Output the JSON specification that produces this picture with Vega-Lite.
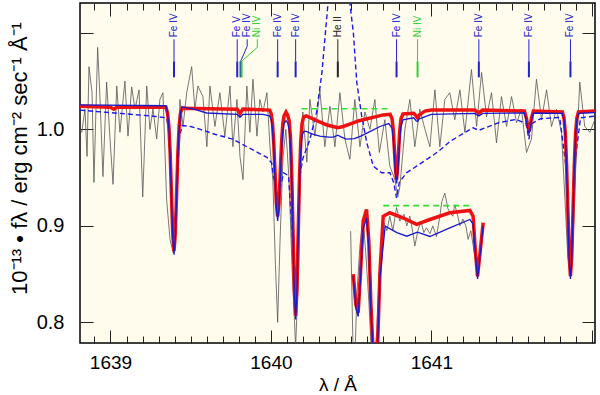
{
 "$schema": "https://vega.github.io/schema/vega-lite/v6.json",
 "width": 515, "height": 340,
 "autosize": {"type": "none"},
 "padding": {"left": 80, "top": 3, "right": 5, "bottom": 52},
 "background": "white",
 "config": {
  "view": {"stroke": "black", "strokeWidth": 1.5, "fill": "#fffcee"},
  "font": "Liberation Sans",
  "axis": {"grid": false, "domain": false, "labelFont": "Liberation Sans", "titleFont": "Liberation Sans", "tickColor": "#222", "labelColor": "black", "titleColor": "black", "titleFontWeight": "normal", "labelFlush": false, "labelOverlap": false}
 },
 "datasets": {
  "obs": [
   {"lam":1638.81,"f":1.0},{"lam":1638.821,"f":0.997},{"lam":1638.841,"f":1.021},{"lam":1638.854,"f":0.972},{"lam":1638.866,"f":1.065},{"lam":1638.885,"f":1.038},{"lam":1638.897,"f":0.945},{"lam":1638.92,"f":1.085},{"lam":1638.935,"f":1.031},{"lam":1638.953,"f":0.951},{"lam":1638.976,"f":1.049},{"lam":1638.997,"f":0.99},{"lam":1639.016,"f":0.943},{"lam":1639.039,"f":1.045},{"lam":1639.059,"f":0.997},{"lam":1639.09,"f":1.05},{"lam":1639.109,"f":0.993},{"lam":1639.132,"f":1.044},{"lam":1639.153,"f":1.021},{"lam":1639.178,"f":1.041},{"lam":1639.201,"f":0.93},{"lam":1639.226,"f":1.045},{"lam":1639.246,"f":1.0},{"lam":1639.265,"f":1.021},{"lam":1639.288,"f":0.99},{"lam":1639.308,"f":1.031},{"lam":1639.327,"f":1.038},{"lam":1639.35,"f":0.927},{"lam":1639.371,"f":0.886},{"lam":1639.391,"f":0.872},{"lam":1639.412,"f":0.927},{"lam":1639.433,"f":1.031},{"lam":1639.452,"f":1.003},{"lam":1639.475,"f":1.038},{"lam":1639.506,"f":1.065},{"lam":1639.526,"f":1.021},{"lam":1639.545,"f":1.045},{"lam":1639.576,"f":1.034},{"lam":1639.601,"f":0.982},{"lam":1639.62,"f":1.045},{"lam":1639.651,"f":1.003},{"lam":1639.682,"f":1.038},{"lam":1639.713,"f":0.993},{"lam":1639.745,"f":1.045},{"lam":1639.763,"f":0.982},{"lam":1639.788,"f":1.031},{"lam":1639.807,"f":0.972},{"lam":1639.826,"f":0.948},{"lam":1639.85,"f":1.045},{"lam":1639.869,"f":0.997},{"lam":1639.888,"f":1.052},{"lam":1639.913,"f":0.993},{"lam":1639.931,"f":1.031},{"lam":1639.95,"f":1.018},{"lam":1639.975,"f":1.038},{"lam":1639.994,"f":0.982},{"lam":1640.012,"f":0.948},{"lam":1640.028,"f":0.86},{"lam":1640.042,"f":0.8},{"lam":1640.056,"f":0.88},{"lam":1640.075,"f":0.97},{"lam":1640.093,"f":1.0},{"lam":1640.112,"f":0.95},{"lam":1640.131,"f":0.86},{"lam":1640.154,"f":0.775},{"lam":1640.174,"f":0.86},{"lam":1640.181,"f":0.972},{"lam":1640.199,"f":1.018},{"lam":1640.224,"f":0.966},{"lam":1640.243,"f":1.031},{"lam":1640.274,"f":0.993},{"lam":1640.305,"f":1.041},{"lam":1640.336,"f":0.982},{"lam":1640.368,"f":1.024},{"lam":1640.399,"f":0.982},{"lam":1640.43,"f":1.038},{"lam":1640.461,"f":0.99},{"lam":1640.492,"f":0.969},{"lam":1640.523,"f":1.031},{"lam":1640.555,"f":0.982},{"lam":1640.586,"f":1.018},{"lam":1640.617,"f":1.0},{"lam":1640.648,"f":1.031},{"lam":1640.676,"f":0.976},{"lam":1640.71,"f":1.01},{"lam":1640.741,"f":0.962},{"lam":1640.773,"f":0.948},{"lam":1640.791,"f":0.93},{"lam":1640.804,"f":0.941},{"lam":1640.835,"f":1.0},{"lam":1640.866,"f":1.031},{"lam":1640.897,"f":0.982},{"lam":1640.928,"f":1.021},{"lam":1640.96,"f":1.0},{"lam":1640.991,"f":0.982},{"lam":1641.022,"f":1.041},{"lam":1641.053,"f":0.982},{"lam":1641.084,"f":1.031},{"lam":1641.115,"f":1.038},{"lam":1641.146,"f":1.01},{"lam":1641.178,"f":1.041},{"lam":1641.209,"f":0.997},{"lam":1641.25,"f":1.062},{"lam":1641.282,"f":1.003},{"lam":1641.313,"f":1.059},{"lam":1641.344,"f":1.013},{"lam":1641.375,"f":1.038},{"lam":1641.406,"f":0.986},{"lam":1641.437,"f":1.034},{"lam":1641.469,"f":1.003},{"lam":1641.5,"f":1.034},{"lam":1641.531,"f":1.007},{"lam":1641.562,"f":1.021},{"lam":1641.593,"f":0.976},{"lam":1641.624,"f":0.99},{"lam":1641.655,"f":1.052},{"lam":1641.687,"f":1.01},{"lam":1641.718,"f":1.041},{"lam":1641.749,"f":1.003},{"lam":1641.78,"f":1.021},{"lam":1641.811,"f":0.997},{"lam":1641.832,"f":0.93},{"lam":1641.85,"f":0.87},{"lam":1641.867,"f":0.85},{"lam":1641.882,"f":0.88},{"lam":1641.9,"f":0.96},{"lam":1641.925,"f":1.049},{"lam":1641.956,"f":1.003},{"lam":1641.988,"f":0.997},{"lam":1642.019,"f":1.01}
  ],
  "obsin": [
   {"lam":1640.497,"f":0.8945},{"lam":1640.511,"f":0.78},{"lam":1640.523,"f":0.76},{"lam":1640.536,"f":0.83},{"lam":1640.555,"f":0.88},{"lam":1640.575,"f":0.9066},{"lam":1640.592,"f":0.87},{"lam":1640.611,"f":0.82},{"lam":1640.623,"f":0.78},{"lam":1640.642,"f":0.76},{"lam":1640.66,"f":0.79},{"lam":1640.679,"f":0.86},{"lam":1640.7,"f":0.905},{"lam":1640.723,"f":0.895},{"lam":1640.741,"f":0.91},{"lam":1640.76,"f":0.895},{"lam":1640.783,"f":0.919},{"lam":1640.804,"f":0.905},{"lam":1640.829,"f":0.912},{"lam":1640.847,"f":0.9},{"lam":1640.866,"f":0.91},{"lam":1640.885,"f":0.893},{"lam":1640.897,"f":0.879},{"lam":1640.916,"f":0.895},{"lam":1640.935,"f":0.905},{"lam":1640.953,"f":0.893},{"lam":1640.97,"f":0.898},{"lam":1640.991,"f":0.892},{"lam":1641.009,"f":0.9},{"lam":1641.032,"f":0.889},{"lam":1641.053,"f":0.91},{"lam":1641.065,"f":0.925},{"lam":1641.084,"f":0.934},{"lam":1641.103,"f":0.918},{"lam":1641.115,"f":0.914},{"lam":1641.134,"f":0.91},{"lam":1641.146,"f":0.922},{"lam":1641.165,"f":0.91},{"lam":1641.178,"f":0.9},{"lam":1641.197,"f":0.907},{"lam":1641.215,"f":0.9},{"lam":1641.229,"f":0.886},{"lam":1641.246,"f":0.895},{"lam":1641.265,"f":0.875},{"lam":1641.284,"f":0.855},{"lam":1641.299,"f":0.865},{"lam":1641.315,"f":0.89}
  ],
  "red": [
   {"lam":1638.81,"f":1.024},{"lam":1639.0,"f":1.023},{"lam":1639.02,"f":1.021},{"lam":1639.04,"f":1.023},{"lam":1639.346,"f":1.023},{"lam":1639.356,"f":1.0165},{"lam":1639.364,"f":1.003},{"lam":1639.372,"f":0.975},{"lam":1639.38,"f":0.933},{"lam":1639.388,"f":0.892},{"lam":1639.396,"f":0.874},{"lam":1639.404,"f":0.892},{"lam":1639.412,"f":0.933},{"lam":1639.42,"f":0.975},{"lam":1639.428,"f":1.003},{"lam":1639.436,"f":1.0165},{"lam":1639.446,"f":1.022},{"lam":1639.79,"f":1.021},{"lam":1639.807,"f":1.0165},{"lam":1639.825,"f":1.021},{"lam":1639.992,"f":1.02},{"lam":1640.002,"f":1.016},{"lam":1640.01,"f":1.006},{"lam":1640.018,"f":0.985},{"lam":1640.026,"f":0.954},{"lam":1640.034,"f":0.923},{"lam":1640.042,"f":0.91},{"lam":1640.05,"f":0.923},{"lam":1640.058,"f":0.954},{"lam":1640.066,"f":0.985},{"lam":1640.074,"f":1.006},{"lam":1640.082,"f":1.014},{"lam":1640.094,"f":1.018},{"lam":1640.104,"f":1.015},{"lam":1640.114,"f":1.009},{"lam":1640.122,"f":0.991},{"lam":1640.13,"f":0.951},{"lam":1640.138,"f":0.892},{"lam":1640.146,"f":0.834},{"lam":1640.154,"f":0.807},{"lam":1640.162,"f":0.834},{"lam":1640.17,"f":0.892},{"lam":1640.178,"f":0.95},{"lam":1640.186,"f":0.988},{"lam":1640.194,"f":1.006},{"lam":1640.204,"f":1.013},{"lam":1640.22,"f":1.014},{"lam":1640.26,"f":1.011},{"lam":1640.3,"f":1.008},{"lam":1640.35,"f":1.0045},{"lam":1640.417,"f":1.0017},{"lam":1640.45,"f":1.003},{"lam":1640.5,"f":1.006},{"lam":1640.55,"f":1.009},{"lam":1640.6,"f":1.011},{"lam":1640.65,"f":1.013},{"lam":1640.7,"f":1.015},{"lam":1640.743,"f":1.0156},{"lam":1640.755,"f":1.011},{"lam":1640.763,"f":0.999},{"lam":1640.771,"f":0.975},{"lam":1640.777,"f":0.958},{"lam":1640.783,"f":0.948},{"lam":1640.789,"f":0.958},{"lam":1640.795,"f":0.975},{"lam":1640.803,"f":0.999},{"lam":1640.811,"f":1.011},{"lam":1640.823,"f":1.016},{"lam":1640.89,"f":1.0166},{"lam":1640.905,"f":1.014},{"lam":1640.914,"f":1.012},{"lam":1640.925,"f":1.015},{"lam":1640.96,"f":1.019},{"lam":1641.0,"f":1.02},{"lam":1641.27,"f":1.02},{"lam":1641.296,"f":1.017},{"lam":1641.32,"f":1.02},{"lam":1641.58,"f":1.019},{"lam":1641.592,"f":1.012},{"lam":1641.6,"f":1.004},{"lam":1641.608,"f":1.0},{"lam":1641.616,"f":1.004},{"lam":1641.624,"f":1.012},{"lam":1641.636,"f":1.019},{"lam":1641.817,"f":1.018},{"lam":1641.827,"f":1.0115},{"lam":1641.835,"f":0.996},{"lam":1641.843,"f":0.963},{"lam":1641.851,"f":0.915},{"lam":1641.859,"f":0.868},{"lam":1641.867,"f":0.848},{"lam":1641.875,"f":0.868},{"lam":1641.883,"f":0.915},{"lam":1641.891,"f":0.963},{"lam":1641.899,"f":0.996},{"lam":1641.907,"f":1.0115},{"lam":1641.917,"f":1.018},{"lam":1642.02,"f":1.019}
  ],
  "blue": [
   {"lam":1638.81,"f":1.0255},{"lam":1639.346,"f":1.0245},{"lam":1639.356,"f":1.016},{"lam":1639.364,"f":1.001},{"lam":1639.372,"f":0.972},{"lam":1639.38,"f":0.93},{"lam":1639.388,"f":0.889},{"lam":1639.396,"f":0.87},{"lam":1639.404,"f":0.889},{"lam":1639.412,"f":0.93},{"lam":1639.42,"f":0.972},{"lam":1639.428,"f":1.001},{"lam":1639.436,"f":1.016},{"lam":1639.446,"f":1.0235},{"lam":1639.52,"f":1.021},{"lam":1639.6,"f":1.017},{"lam":1639.79,"f":1.0155},{"lam":1639.807,"f":1.0125},{"lam":1639.825,"f":1.0155},{"lam":1639.95,"f":1.0155},{"lam":1639.992,"f":1.014},{"lam":1640.002,"f":1.01},{"lam":1640.01,"f":1.0},{"lam":1640.018,"f":0.979},{"lam":1640.026,"f":0.948},{"lam":1640.034,"f":0.918},{"lam":1640.042,"f":0.905},{"lam":1640.05,"f":0.918},{"lam":1640.058,"f":0.948},{"lam":1640.066,"f":0.978},{"lam":1640.074,"f":0.998},{"lam":1640.082,"f":1.006},{"lam":1640.094,"f":1.009},{"lam":1640.104,"f":1.007},{"lam":1640.114,"f":1.0},{"lam":1640.122,"f":0.983},{"lam":1640.13,"f":0.945},{"lam":1640.138,"f":0.887},{"lam":1640.146,"f":0.83},{"lam":1640.154,"f":0.803},{"lam":1640.162,"f":0.83},{"lam":1640.17,"f":0.887},{"lam":1640.178,"f":0.943},{"lam":1640.186,"f":0.978},{"lam":1640.194,"f":0.993},{"lam":1640.204,"f":0.998},{"lam":1640.22,"f":0.998},{"lam":1640.26,"f":0.995},{"lam":1640.305,"f":0.993},{"lam":1640.36,"f":0.992},{"lam":1640.39,"f":0.992},{"lam":1640.417,"f":0.994},{"lam":1640.44,"f":0.992},{"lam":1640.47,"f":0.99},{"lam":1640.52,"f":0.9905},{"lam":1640.56,"f":0.993},{"lam":1640.62,"f":0.998},{"lam":1640.68,"f":1.003},{"lam":1640.735,"f":1.006},{"lam":1640.755,"f":1.001},{"lam":1640.763,"f":0.99},{"lam":1640.771,"f":0.968},{"lam":1640.777,"f":0.953},{"lam":1640.783,"f":0.944},{"lam":1640.789,"f":0.953},{"lam":1640.795,"f":0.968},{"lam":1640.803,"f":0.99},{"lam":1640.811,"f":1.003},{"lam":1640.823,"f":1.01},{"lam":1640.89,"f":1.012},{"lam":1640.905,"f":1.009},{"lam":1640.914,"f":1.008},{"lam":1640.925,"f":1.011},{"lam":1641.0,"f":1.0155},{"lam":1641.27,"f":1.0165},{"lam":1641.296,"f":1.014},{"lam":1641.32,"f":1.0165},{"lam":1641.58,"f":1.017},{"lam":1641.592,"f":1.009},{"lam":1641.6,"f":1.0},{"lam":1641.608,"f":0.996},{"lam":1641.616,"f":1.0},{"lam":1641.624,"f":1.009},{"lam":1641.636,"f":1.017},{"lam":1641.817,"f":1.0165},{"lam":1641.827,"f":1.01},{"lam":1641.835,"f":0.994},{"lam":1641.843,"f":0.96},{"lam":1641.851,"f":0.912},{"lam":1641.859,"f":0.865},{"lam":1641.867,"f":0.845},{"lam":1641.875,"f":0.865},{"lam":1641.883,"f":0.912},{"lam":1641.891,"f":0.96},{"lam":1641.899,"f":0.994},{"lam":1641.907,"f":1.01},{"lam":1641.917,"f":1.0165},{"lam":1642.02,"f":1.0175}
  ],
  "dash": [
   {"lam":1638.81,"f":1.02},{"lam":1638.95,"f":1.018},{"lam":1639.1,"f":1.016},{"lam":1639.25,"f":1.014},{"lam":1639.35,"f":1.012},{"lam":1639.364,"f":0.998},{"lam":1639.38,"f":0.93},{"lam":1639.396,"f":0.875},{"lam":1639.412,"f":0.93},{"lam":1639.428,"f":0.99},{"lam":1639.446,"f":1.004},{"lam":1639.5,"f":1.003},{"lam":1639.56,"f":1.0},{"lam":1639.65,"f":0.995},{"lam":1639.76,"f":0.99},{"lam":1639.85,"f":0.982},{"lam":1639.93,"f":0.975},{"lam":1639.975,"f":0.971},{"lam":1640.005,"f":0.965},{"lam":1640.026,"f":0.94},{"lam":1640.042,"f":0.912},{"lam":1640.058,"f":0.94},{"lam":1640.08,"f":0.955},{"lam":1640.11,"f":0.952},{"lam":1640.13,"f":0.9},{"lam":1640.154,"f":0.81},{"lam":1640.17,"f":0.9},{"lam":1640.181,"f":0.952},{"lam":1640.199,"f":0.97},{"lam":1640.243,"f":0.9896},{"lam":1640.285,"f":1.018},{"lam":1640.318,"f":1.059},{"lam":1640.358,"f":1.135},{"lam":1640.39,"f":1.2},{"lam":1640.43,"f":1.26},{"lam":1640.46,"f":1.22},{"lam":1640.489,"f":1.135},{"lam":1640.514,"f":1.1},{"lam":1640.535,"f":1.049},{"lam":1640.566,"f":1.0135},{"lam":1640.597,"f":0.9865},{"lam":1640.638,"f":0.962},{"lam":1640.69,"f":0.955},{"lam":1640.742,"f":0.955},{"lam":1640.765,"f":0.945},{"lam":1640.783,"f":0.929},{"lam":1640.8,"f":0.945},{"lam":1640.845,"f":0.955},{"lam":1640.908,"f":0.962},{"lam":1641.0,"f":0.972},{"lam":1641.05,"f":0.978},{"lam":1641.12,"f":0.988},{"lam":1641.26,"f":1.0017},{"lam":1641.296,"f":0.999},{"lam":1641.42,"f":1.007},{"lam":1641.53,"f":1.0104},{"lam":1641.59,"f":1.006},{"lam":1641.608,"f":0.99},{"lam":1641.625,"f":1.006},{"lam":1641.68,"f":1.011},{"lam":1641.8,"f":1.0124},{"lam":1641.84,"f":0.96},{"lam":1641.867,"f":0.85},{"lam":1641.89,"f":0.96},{"lam":1641.93,"f":1.012},{"lam":1642.02,"f":1.0138}
  ],
  "green": [{"lam":1640.191,"f":1.0214},{"lam":1640.752,"f":1.0214}],
  "greenin": [{"lam":1640.70,"f":0.921},{"lam":1641.25,"f":0.921}],
  "redin": [
   {"lam":1640.513,"f":0.85},{"lam":1640.53,"f":0.818},{"lam":1640.544,"f":0.81},{"lam":1640.558,"f":0.85},{"lam":1640.575,"f":0.905},{"lam":1640.596,"f":0.917},{"lam":1640.61,"f":0.885},{"lam":1640.623,"f":0.82},{"lam":1640.642,"f":0.75},{"lam":1640.66,"f":0.75},{"lam":1640.679,"f":0.85},{"lam":1640.7,"f":0.91},{"lam":1640.741,"f":0.9136},{"lam":1640.822,"f":0.9084},{"lam":1640.908,"f":0.9015},{"lam":1640.991,"f":0.9066},{"lam":1641.115,"f":0.9136},{"lam":1641.24,"f":0.916},{"lam":1641.26,"f":0.91},{"lam":1641.274,"f":0.875},{"lam":1641.288,"f":0.8478},{"lam":1641.302,"f":0.87},{"lam":1641.323,"f":0.9032}
  ],
  "bluein": [
   {"lam":1640.513,"f":0.848},{"lam":1640.53,"f":0.815},{"lam":1640.544,"f":0.806},{"lam":1640.558,"f":0.845},{"lam":1640.575,"f":0.897},{"lam":1640.596,"f":0.908},{"lam":1640.61,"f":0.878},{"lam":1640.623,"f":0.815},{"lam":1640.642,"f":0.75},{"lam":1640.66,"f":0.75},{"lam":1640.679,"f":0.845},{"lam":1640.712,"f":0.8997},{"lam":1640.785,"f":0.893},{"lam":1640.847,"f":0.8893},{"lam":1640.913,"f":0.8935},{"lam":1640.991,"f":0.889},{"lam":1641.115,"f":0.898},{"lam":1641.24,"f":0.9066},{"lam":1641.26,"f":0.902},{"lam":1641.274,"f":0.872},{"lam":1641.288,"f":0.845},{"lam":1641.302,"f":0.867},{"lam":1641.323,"f":0.9}
  ],
  "idthin": [
   {"id":"a","ion":"Fe","lam":1639.396,"f":1.0934,"k":0},{"id":"a","ion":"Fe","lam":1639.396,"f":1.0705,"k":1},
   {"id":"b","ion":"Fe","lam":1639.79,"f":1.0934,"k":0},{"id":"b","ion":"Fe","lam":1639.79,"f":1.0705,"k":1},
   {"id":"c","ion":"Fe","lam":1639.852,"f":1.0934,"k":0},{"id":"c","ion":"Fe","lam":1639.852,"f":1.0861,"k":1},{"id":"c","ion":"Fe","lam":1639.811,"f":1.0705,"k":2},
   {"id":"d","ion":"Ni","lam":1639.915,"f":1.0934,"k":0},{"id":"d","ion":"Ni","lam":1639.915,"f":1.085,"k":1},{"id":"d","ion":"Ni","lam":1639.817,"f":1.0705,"k":2},
   {"id":"e","ion":"Fe","lam":1640.042,"f":1.0934,"k":0},{"id":"e","ion":"Fe","lam":1640.042,"f":1.0705,"k":1},
   {"id":"f","ion":"Fe","lam":1640.154,"f":1.0934,"k":0},{"id":"f","ion":"Fe","lam":1640.154,"f":1.0705,"k":1},
   {"id":"g","ion":"He","lam":1640.417,"f":1.0934,"k":0},{"id":"g","ion":"He","lam":1640.417,"f":1.0705,"k":1},
   {"id":"h","ion":"Fe","lam":1640.783,"f":1.0934,"k":0},{"id":"h","ion":"Fe","lam":1640.783,"f":1.0705,"k":1},
   {"id":"i","ion":"Ni","lam":1640.914,"f":1.0934,"k":0},{"id":"i","ion":"Ni","lam":1640.914,"f":1.0705,"k":1},
   {"id":"j","ion":"Fe","lam":1641.296,"f":1.0934,"k":0},{"id":"j","ion":"Fe","lam":1641.296,"f":1.0705,"k":1},
   {"id":"k","ion":"Fe","lam":1641.608,"f":1.0934,"k":0},{"id":"k","ion":"Fe","lam":1641.608,"f":1.0705,"k":1},
   {"id":"l","ion":"Fe","lam":1641.867,"f":1.0934,"k":0},{"id":"l","ion":"Fe","lam":1641.867,"f":1.0705,"k":1}
  ],
  "idthick": [
   {"id":"a","ion":"Fe","lam":1639.396,"f":1.0705},{"id":"a","ion":"Fe","lam":1639.396,"f":1.054},
   {"id":"b","ion":"Fe","lam":1639.79,"f":1.0705},{"id":"b","ion":"Fe","lam":1639.79,"f":1.054},
   {"id":"c","ion":"Fe","lam":1639.811,"f":1.0705},{"id":"c","ion":"Fe","lam":1639.811,"f":1.054},
   {"id":"d","ion":"Ni","lam":1639.817,"f":1.0705},{"id":"d","ion":"Ni","lam":1639.817,"f":1.054},
   {"id":"e","ion":"Fe","lam":1640.042,"f":1.0705},{"id":"e","ion":"Fe","lam":1640.042,"f":1.054},
   {"id":"f","ion":"Fe","lam":1640.154,"f":1.0705},{"id":"f","ion":"Fe","lam":1640.154,"f":1.054},
   {"id":"g","ion":"He","lam":1640.417,"f":1.0705},{"id":"g","ion":"He","lam":1640.417,"f":1.054},
   {"id":"h","ion":"Fe","lam":1640.783,"f":1.0705},{"id":"h","ion":"Fe","lam":1640.783,"f":1.054},
   {"id":"i","ion":"Ni","lam":1640.914,"f":1.0705},{"id":"i","ion":"Ni","lam":1640.914,"f":1.054},
   {"id":"j","ion":"Fe","lam":1641.296,"f":1.0705},{"id":"j","ion":"Fe","lam":1641.296,"f":1.054},
   {"id":"k","ion":"Fe","lam":1641.608,"f":1.0705},{"id":"k","ion":"Fe","lam":1641.608,"f":1.054},
   {"id":"l","ion":"Fe","lam":1641.867,"f":1.0705},{"id":"l","ion":"Fe","lam":1641.867,"f":1.054}
  ],
  "labels": [
   {"t":"Fe IV","ion":"Fe","lam":1639.396},{"t":"Fe V","ion":"Fe","lam":1639.79},{"t":"Fe IV","ion":"Fe","lam":1639.852},{"t":"Ni IV","ion":"Ni","lam":1639.915},{"t":"Fe IV","ion":"Fe","lam":1640.042},{"t":"Fe IV","ion":"Fe","lam":1640.154},{"t":"He II","ion":"He","lam":1640.417},{"t":"Fe IV","ion":"Fe","lam":1640.783},{"t":"Ni IV","ion":"Ni","lam":1640.914},{"t":"Fe IV","ion":"Fe","lam":1641.296},{"t":"Fe IV","ion":"Fe","lam":1641.608},{"t":"Fe IV","ion":"Fe","lam":1641.867}
  ]
 },
 "resolve": {"axis": {"x": "independent", "y": "independent"}},
 "layer": [
  {"data": {"name": "obs"}, "mark": {"type": "line", "color": "#555555", "strokeWidth": 0.8, "clip": true},
   "encoding": {
    "x": {"field": "lam", "type": "quantitative", "scale": {"domain": [1638.81, 1642.02], "nice": false, "zero": false},
      "axis": {"orient": "bottom", "values": [1639, 1640, 1641], "format": "d", "ticks": false, "labelFontSize": 19, "labelPadding": 10, "title": "λ / Å", "titleFontSize": 19, "titlePadding": 3}},
    "y": {"field": "f", "type": "quantitative", "scale": {"domain": [0.7786, 1.131], "nice": false, "zero": false},
      "axis": {"orient": "left", "values": [0.8, 0.9, 1.0], "format": ".1f", "ticks": false, "labelFontSize": 20, "labelPadding": 16, "title": "10⁻¹³  •  fλ  /  erg cm⁻²  sec⁻¹  Å⁻¹", "titleFontSize": 22, "titlePadding": 5, "titleY": 155}}}},
  {"data": {"name": "obsin"}, "mark": {"type": "line", "color": "#555555", "strokeWidth": 0.8, "clip": true},
   "encoding": {"x": {"field": "lam", "type": "quantitative", "axis": null}, "y": {"field": "f", "type": "quantitative", "axis": null}}},
  {"data": {"name": "dash"}, "mark": {"type": "line", "color": "#1a1aee", "strokeWidth": 1.4, "strokeDash": [5, 3], "clip": true},
   "encoding": {
    "x": {"field": "lam", "type": "quantitative", "axis": {"orient": "bottom", "values": [1639, 1640, 1641, 1642], "labels": false, "tickSize": -13, "title": null}},
    "y": {"field": "f", "type": "quantitative", "axis": {"orient": "left", "values": [0.8, 0.9, 1.0, 1.1], "labels": false, "tickSize": -13, "title": null}}}},
  {"data": {"name": "green"}, "mark": {"type": "line", "color": "#33dd33", "strokeWidth": 1.6, "strokeDash": [6, 4], "clip": true},
   "encoding": {
    "x": {"field": "lam", "type": "quantitative", "axis": {"orient": "bottom", "values": [1638.9, 1639.1, 1639.2, 1639.3, 1639.4, 1639.5, 1639.6, 1639.7, 1639.8, 1639.9, 1640.1, 1640.2, 1640.3, 1640.4, 1640.5, 1640.6, 1640.7, 1640.8, 1640.9, 1641.1, 1641.2, 1641.3, 1641.4, 1641.5, 1641.6, 1641.7, 1641.8, 1641.9], "labels": false, "tickSize": -7, "title": null}},
    "y": {"field": "f", "type": "quantitative", "axis": {"orient": "right", "values": [0.8, 0.9, 1.0, 1.1], "labels": false, "tickSize": -13, "title": null}}}},
  {"data": {"name": "greenin"}, "mark": {"type": "line", "color": "#33dd33", "strokeWidth": 1.6, "strokeDash": [6, 4], "clip": true},
   "encoding": {"x": {"field": "lam", "type": "quantitative", "axis": null}, "y": {"field": "f", "type": "quantitative", "axis": null}}},
  {"data": {"name": "red"}, "mark": {"type": "line", "color": "#ee1111", "strokeWidth": 3.5, "clip": true},
   "encoding": {
    "x": {"field": "lam", "type": "quantitative", "axis": {"orient": "top", "values": [1639, 1640, 1641, 1642], "labels": false, "tickSize": -13, "title": null}},
    "y": {"field": "f", "type": "quantitative", "axis": null}}},
  {"data": {"name": "redin"}, "mark": {"type": "line", "color": "#ee1111", "strokeWidth": 3.5, "clip": true},
   "encoding": {"x": {"field": "lam", "type": "quantitative", "axis": null}, "y": {"field": "f", "type": "quantitative", "axis": null}}},
  {"data": {"name": "blue"}, "mark": {"type": "line", "color": "#1a1acc", "strokeWidth": 1.3, "clip": true},
   "encoding": {
    "x": {"field": "lam", "type": "quantitative", "axis": {"orient": "top", "values": [1638.9, 1639.1, 1639.2, 1639.3, 1639.4, 1639.5, 1639.6, 1639.7, 1639.8, 1639.9, 1640.1, 1640.2, 1640.3, 1640.4, 1640.5, 1640.6, 1640.7, 1640.8, 1640.9, 1641.1, 1641.2, 1641.3, 1641.4, 1641.5, 1641.6, 1641.7, 1641.8, 1641.9], "labels": false, "tickSize": -7, "title": null}},
    "y": {"field": "f", "type": "quantitative", "axis": null}}},
  {"data": {"name": "bluein"}, "mark": {"type": "line", "color": "#1a1acc", "strokeWidth": 1.3, "clip": true},
   "encoding": {"x": {"field": "lam", "type": "quantitative", "axis": null}, "y": {"field": "f", "type": "quantitative", "axis": null}}},
  {"data": {"name": "idthin"}, "mark": {"type": "line", "strokeWidth": 1, "clip": true},
   "encoding": {"x": {"field": "lam", "type": "quantitative", "axis": null}, "y": {"field": "f", "type": "quantitative", "axis": null},
    "detail": {"field": "id"}, "order": {"field": "k"},
    "color": {"field": "ion", "type": "nominal", "scale": {"domain": ["Fe", "Ni", "He"], "range": ["#2222cc", "#33cc33", "#222222"]}, "legend": null}}},
  {"data": {"name": "idthick"}, "mark": {"type": "line", "strokeWidth": 2, "clip": true},
   "encoding": {"x": {"field": "lam", "type": "quantitative", "axis": null}, "y": {"field": "f", "type": "quantitative", "axis": null},
    "detail": {"field": "id"},
    "color": {"field": "ion", "type": "nominal", "legend": null}}},
  {"data": {"name": "labels"}, "mark": {"type": "text", "angle": 270, "align": "left", "baseline": "middle", "fontSize": 10, "font": "Liberation Sans"},
   "encoding": {"x": {"field": "lam", "type": "quantitative", "axis": null}, "y": {"datum": 1.0955, "type": "quantitative", "axis": null},
    "text": {"field": "t"},
    "color": {"field": "ion", "type": "nominal", "legend": null}}}
 ]
}
